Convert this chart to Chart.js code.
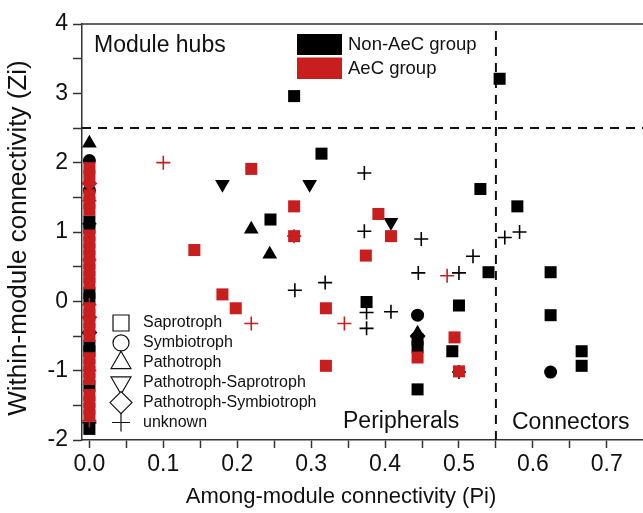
<!DOCTYPE html>
<html>
<head>
<meta charset="utf-8">
<script src="https://cdn.jsdelivr.net/npm/chart.js@4.4.1/dist/chart.umd.min.js"></script>
<style>
  html, body { margin: 0; padding: 0; background: #fff; }
</style>
</head>
<body>
<canvas id="c" width="643" height="513"></canvas>
<script>
const FONT = '"Liberation Sans", Arial, sans-serif';
const BLACK = '#000000';
const RED = '#c81e1e';

// points are [Pi, Zi]
// Non-AeC group (black)
const nonAecSaprotroph = [
  [0.277, 2.96], [0.555, 3.21], [0.314, 2.13], [0.529, 1.62], [0.579, 1.37], [0.245, 1.18],
  [0.375, -0.01], [0.500, -0.06], [0.540, 0.42], [0.624, 0.42], [0.624, -0.20],
  [0.444, -0.55], [0.444, -0.66], [0.444, -1.27], [0.491, -0.72], [0.666, -0.72], [0.666, -0.93],
  [0, 1.15], [0, 1.06], [0, 0.12], [0, 0.04], [0, -0.64], [0, -0.72], [0, -1.22], [0, -1.84]
];
const nonAecSymbiotroph = [[0, 2.03], [0, 1.60], [0.444, -0.20], [0.624, -1.02]];
const nonAecPathotroph = [[0, 2.28], [0.219, 1.04], [0.244, 0.68], [0.444, -0.46]];
const nonAecPathoSapro = [[0.180, 1.69], [0.298, 1.69], [0.408, 1.14]];
const nonAecPathoSymbio = [[0.444, -0.50], [0, -0.45]];
const nonAecUnknown = [
  [0.372, 1.85], [0.372, 1.01], [0.449, 0.90], [0.562, 0.92], [0.582, 1.00], [0.519, 0.65],
  [0.445, 0.41], [0.500, 0.41], [0.278, 0.16], [0.319, 0.27], [0.375, -0.16], [0.375, -0.39],
  [0.408, -0.15], [0.500, -1.02], [0, 1.12], [0, -1.75]
];

// AeC group (red)
const aecSaprotroph = [
  [0.219, 1.91], [0.277, 1.37], [0.277, 0.94], [0.391, 1.26], [0.408, 0.94], [0.142, 0.74],
  [0.374, 0.66], [0.180, 0.10], [0.198, -0.10], [0.320, -0.10], [0.320, -0.93], [0.444, -0.81],
  [0.494, -0.52], [0.500, -1.01],
  [0, 1.92], [0, 1.81], [0, 1.53], [0, 1.42], [0, 1.32], [0, 0.95], [0, 0.85], [0, 0.75],
  [0, 0.65], [0, 0.55], [0, 0.45], [0, 0.35], [0, 0.26], [0, -0.10], [0, -0.20], [0, -0.30],
  [0, -0.40], [0, -0.50], [0, -0.82], [0, -0.92], [0, -1.02], [0, -1.12], [0, -1.35],
  [0, -1.45], [0, -1.55], [0, -1.65]
];
const aecPathoSymbio = [[0, -0.23], [0, 1.70]];
const aecUnknown = [
  [0.100, 2.00], [0.219, -0.32], [0.345, -0.32], [0.484, 0.37], [0.277, 0.94],
  [0, 1.45], [0, 0.60], [0, -1.00], [0, -1.72], [0, -0.05]
];

// cut-off lines
const hubLine = [[-0.01, 2.5], [0.749, 2.5]];
const connectorLine = [[0.55, -2], [0.55, 4]];

const guildLegend = ['Saprotroph', 'Symbiotroph', 'Pathotroph', 'Pathotroph-Saprotroph', 'Pathotroph-Symbiotroph', 'unknown'];

const pts = arr => arr.map(([x, y]) => ({ x, y }));

function marks(data, color, style, radius, order, rotation) {
  const isCross = style === 'cross';
  return {
    data: pts(data),
    pointStyle: style,
    pointRadius: radius,
    pointHoverRadius: radius,
    rotation: rotation || 0,
    backgroundColor: color,
    borderColor: color,
    borderWidth: isCross ? 1.6 : 0,
    order,
  };
}

function dashed(data) {
  return {
    data: pts(data),
    showLine: true,
    borderColor: '#111',
    borderWidth: 2,
    borderDash: [9, 7],
    pointRadius: 0,
    order: 5,
  };
}

const overlay = {
  id: 'overlay',
  afterDraw(chart) {
    const { ctx, chartArea: a } = chart;
    ctx.save();
    // top frame line
    ctx.strokeStyle = '#333';
    ctx.lineWidth = 1.5;
    ctx.beginPath();
    ctx.moveTo(a.left, a.top);
    ctx.lineTo(a.right, a.top);
    ctx.stroke();

    ctx.fillStyle = '#111';
    ctx.textBaseline = 'middle';
    ctx.font = '23px ' + FONT;
    ctx.fillText('Module hubs', 94, 46);
    ctx.fillText('Peripherals', 343, 422);
    ctx.fillText('Connectors', 512, 423);

    // axis titles
    ctx.font = '22px ' + FONT;
    ctx.textAlign = 'center';
    ctx.fillText('Among-module connectivity (Pi)', 341, 497);
    ctx.save();
    ctx.translate(19, 238);
    ctx.rotate(-Math.PI / 2);
    ctx.font = '26px ' + FONT;
    ctx.fillText('Within-module connectivity (Zi)', 0, 0);
    ctx.restore();
    ctx.textAlign = 'left';

    // group legend
    ctx.fillStyle = BLACK;
    ctx.fillRect(297, 34, 45, 21);
    ctx.fillStyle = RED;
    ctx.fillRect(297, 57.5, 45, 21.5);
    ctx.fillStyle = '#111';
    ctx.font = '18.5px ' + FONT;
    ctx.fillText('Non-AeC group', 348, 45);
    ctx.fillText('AeC group', 348, 68.5);

    // guild legend (hollow shapes)
    const shapes = [
      { pointStyle: 'rect', radius: 11.3, rotation: 0 },
      { pointStyle: 'circle', radius: 8, rotation: 0 },
      { pointStyle: 'triangle', radius: 11.5, rotation: 0 },
      { pointStyle: 'triangle', radius: 11.5, rotation: 180 },
      { pointStyle: 'rectRot', radius: 11, rotation: 0 },
      { pointStyle: 'cross', radius: 9, rotation: 0 },
    ];
    ctx.font = '16px ' + FONT;
    guildLegend.forEach((label, i) => {
      const y = 323 + i * 19.9;
      ctx.fillStyle = '#fff';
      ctx.strokeStyle = '#111';
      ctx.lineWidth = 1.2;
      Chart.helpers.drawPoint(ctx, Object.assign({ borderWidth: 1.2 }, shapes[i]), 121, y);
      ctx.fillStyle = '#111';
      ctx.fillText(label, 143, y);
    });
    ctx.restore();
  }
};

new Chart(document.getElementById('c'), {
  type: 'scatter',
  data: {
    datasets: [
      marks(aecSaprotroph, RED, 'rect', 8.5, 1),
      marks(aecPathoSymbio, RED, 'rectRot', 8, 1),
      marks(aecUnknown, RED, 'cross', 7, 1),
      marks(nonAecSaprotroph, BLACK, 'rect', 8.5, 2),
      marks(nonAecSymbiotroph, BLACK, 'circle', 6.5, 3),
      marks(nonAecPathotroph, BLACK, 'triangle', 8.5, 2),
      marks(nonAecPathoSapro, BLACK, 'triangle', 8.5, 2, 180),
      marks(nonAecPathoSymbio, BLACK, 'rectRot', 8, 2),
      marks(nonAecUnknown, BLACK, 'cross', 7, 2),
      dashed(hubLine),
      dashed(connectorLine),
    ]
  },
  options: {
    responsive: false,
    animation: false,
    layout: { autoPadding: false, padding: { top: 24, right: 0, left: 0, bottom: 0 } },
    plugins: {
      legend: { display: false },
      tooltip: { enabled: false },
    },
    scales: {
      x: {
        type: 'linear',
        min: -0.01, max: 0.749,
        afterFit: s => { s.height = 73; s.paddingLeft = 0; s.paddingRight = 0; },
        border: { color: '#333', width: 1.5 },
        grid: { drawOnChartArea: false, tickLength: 8, tickColor: '#333', tickWidth: 1.5 },
        ticks: {
          stepSize: 0.05, includeBounds: false, autoSkip: false, maxRotation: 0, padding: 3,
          color: '#111', font: { size: 23, family: FONT },
          callback: v => Math.abs(v * 10 - Math.round(v * 10)) < 1e-6 ? v.toFixed(1) : '',
        },
      },
      y: {
        min: -2, max: 4,
        afterFit: s => { s.width = 82; s.paddingTop = 0; s.paddingBottom = 0; },
        border: { color: '#333', width: 1.5 },
        grid: { drawOnChartArea: false, tickLength: 9, tickColor: '#333', tickWidth: 1.5 },
        ticks: {
          stepSize: 0.5, autoSkip: false, padding: 5,
          color: '#111', font: { size: 23, family: FONT },
          callback: v => Number.isInteger(v) ? v : '',
        },
      },
    },
  },
  plugins: [overlay],
});
</script>
</body>
</html>
